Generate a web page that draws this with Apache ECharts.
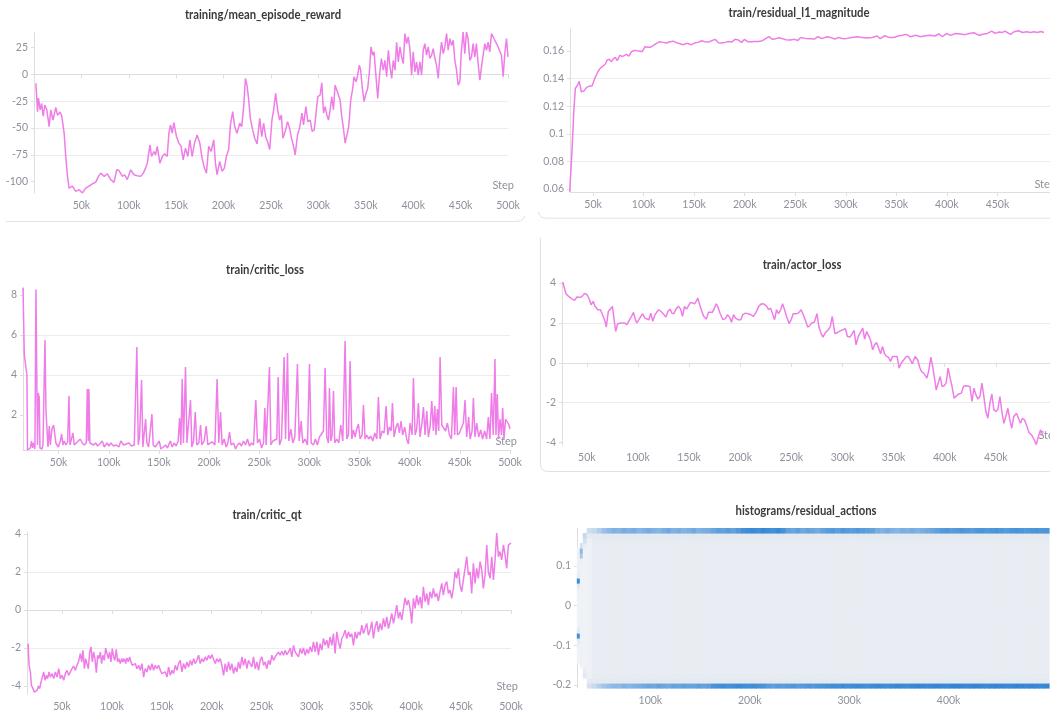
<!DOCTYPE html>
<html>
<head>
<meta charset="utf-8">
<script src="https://cdn.jsdelivr.net/npm/echarts@6/dist/echarts.min.js"></script>
<style>
  html, body { margin: 0; padding: 0; background: #ffffff; }
  #chart { width: 1050px; height: 717px; }
</style>
</head>
<body>
<div id="chart"></div>
<script>
// ---- logged metrics: [step in thousands, value] ----
const meanEpisodeReward = [
  [2,-8.4],[3.7,-34.7],[4.7,-22],[6.5,-33],[8,-27],[9.7,-39],[11.4,-28.5],[13.5,-33],[16,-48.6],[17.7,-33],
  [20,-42.5],[23,-30.7],[24.8,-38],[27.6,-35],[29.3,-39],[31.8,-54.8],[33.5,-76.5],[35.3,-95],[37,-105.9],[40.5,-104],
  [44,-109],[47.6,-107.4],[51,-110.5],[54.6,-106],[58,-104],[61.6,-101.9],[65,-100.6],[68,-95],[70.4,-92],[74,-95],
  [77.4,-92.6],[80.9,-98],[84.4,-100.6],[87.2,-88.9],[89.6,-89.5],[93.2,-95],[95.6,-93.5],[98.4,-98],[102,-88.9],[105.4,-93.5],
  [109,-94.4],[112.4,-95],[115.3,-92],[117.7,-87.3],[119.5,-82.7],[122.3,-65.7],[124,-76.5],[126.5,-71.8],[128.2,-75],[130,-67],
  [132.8,-82.7],[135.3,-76.5],[137.7,-74],[140.5,-76.5],[142.3,-54.8],[144,-47],[145.8,-54.8],[147.5,-45],[150.3,-57.9],[152.8,-64],
  [155.2,-67],[157.3,-79.6],[159.8,-68.7],[162.3,-76.5],[164.4,-61],[166.8,-76.5],[169.3,-64],[172.1,-56.4],[174.9,-64],[177.3,-78],
  [179.8,-87.3],[181.9,-92],[184.3,-67],[186.8,-71.8],[189.6,-61],[191.4,-82.7],[193.1,-93.5],[195.9,-81],[198.4,-90.4],[200.8,-87.3],
  [202.9,-76.5],[205.4,-70],[207.2,-47],[209.6,-34.7],[211.7,-48.6],[214.1,-54.8],[217,-45.5],[219.1,-48.6],[221.2,-30],[223,-3.8],
  [224.7,-10],[226.5,-23.9],[228.2,-41],[230.7,-51.7],[232.8,-59.5],[235.3,-64.7],[238.1,-41],[240.2,-58],[242.2,-45.5],[244.4,-58],
  [246.8,-64],[248.6,-70],[251,-42.5],[252.8,-33],[254.9,-17.7],[257,-33],[259.1,-42.5],[260.9,-37.8],[262.6,-59.5],[265,-53],
  [267.5,-44],[269.6,-50.2],[272,-61],[273.8,-67],[275.5,-75],[278,-56.4],[280.1,-50.2],[282.6,-36],[284.3,-47],[286.8,-30],
  [288.9,-44],[291.3,-42.5],[293.4,-53],[295.6,-51.7],[297.6,-53],[299.4,-20.8],[301.8,-19.2],[303.6,-7.8],[305.4,-36],[307.1,-30],
  [308.9,-37.8],[310.6,-42.5],[312.4,-33],[314.1,-20.8],[315.9,-33],[317.6,-10],[319.4,-14.6],[321.1,-13],[322.9,-23.9],[324.6,-39],
  [326.4,-50.2],[328.2,-64],[330,-62.6],[331.7,-50.2],[332.7,-41],[334.1,-23.9],[336.2,-13],[337.6,-2.2],[339.7,-6.9],[341.1,-2.2],
  [343.2,8.6],[344.6,4],[346,-10],[348.2,-25.4],[350.2,-17.7],[352,-13],[353.8,2.4],[355.5,25.6],[357.3,17.9],[358.7,21],
  [360.5,0.9],[362.6,-22.3],[364.3,-2.2],[366.4,14.8],[368.5,4],[370.2,13],[372,-2.2],[373.8,22.5],[375.5,7],[377.3,-3.8],
  [379,13],[380.8,4],[382.5,30],[384.3,11.7],[386,25.6],[387.8,16.3],[389.5,10],[391.3,38],[393.1,28.7],[394.8,35],
  [396.5,24],[398.3,-0.7],[400,21],[401.8,2.4],[403.5,11.7],[405.3,-0.7],[407.1,11.7],[408.8,-0.7],[410.6,22.5],[412.3,28.7],
  [414.1,17.9],[415.9,25.6],[417.6,14.8],[419.4,17.9],[421.1,24],[422.9,14.8],[424.6,8.6],[426.4,-3.8],[428.1,16.3],[429.9,30],
  [431.7,19.4],[433.4,25.6],[435.2,38],[436.9,22.5],[438.7,33.4],[440.4,27],[442.2,31.8],[443.9,13],[445.7,4],[447.4,-10],
  [449.2,-6.9],[450.6,19.4],[452.7,39.5],[454.4,19.4],[456.2,39.5],[457.9,33.4],[459.7,13],[461.5,16.3],[463.2,28.7],[465,16.3],
  [466.7,28.7],[468.5,10],[470.3,-5.3],[472,7],[473.8,17.9],[475.5,28.7],[477.3,22.5],[479,30],[480.8,21],[482.6,38],
  [484.3,39.5],[486.1,31.8],[487.8,33.4],[489.6,25.6],[491.3,24],[493.1,17.9],[494.9,-2.2],[496.6,19.4],[498.4,33.4],[500,16.3]
];

const residualL1Magnitude = [
  [26.9,0.058],[29.2,0.088],[31,0.117],[32.5,0.133],[34.5,0.135],[36.4,0.138],[38.4,0.1305],[41,0.131],[43.7,0.1337],[46.4,0.1346],
  [49,0.1346],[51.6,0.140],[54.3,0.1443],[57,0.1474],[59.6,0.149],[62.2,0.1506],[64,0.1535],[66.2,0.154],[68.2,0.1523],[70,0.1544],
  [72,0.1554],[74,0.153],[76.4,0.157],[78.8,0.156],[80.7,0.157],[83,0.1576],[85.4,0.1564],[88,0.1595],[90.7,0.1605],[93.3,0.1602],
  [96,0.16],[98.6,0.1595],[101.2,0.1631],[104,0.1627],[106.5,0.1627],[109.5,0.1639],[112.8,0.1656],[116,0.1668],[119.4,0.1663],[122.7,0.1658],
  [126,0.1668],[129.3,0.1672],[132.6,0.166],[136,0.1653],[139,0.1646],[142.6,0.1656],[144,0.1665],[147.5,0.1646],[150.8,0.166],[154,0.1663],
  [157.4,0.1675],[160.7,0.1668],[164,0.1665],[167.4,0.1675],[170.7,0.1685],[174,0.166],[177.3,0.1658],[180.6,0.1663],[184,0.167],[187,0.1665],
  [190.5,0.1685],[193.8,0.168],[197,0.1663],[199.8,0.1685],[203,0.1668],[207,0.1668],[210,0.167],[213.6,0.167],[217.6,0.1675],[221,0.1692],
  [224,0.1704],[227.5,0.1685],[230.8,0.169],[234,0.1697],[237.4,0.169],[240.7,0.1682],[245,0.168],[249.3,0.1685],[252.6,0.1677],[255.3,0.1699],
  [260,0.1692],[265,0.169],[269,0.1687],[272.5,0.1704],[276.4,0.169],[281.4,0.1704],[284.7,0.1699],[289,0.1687],[293,0.1699],[297,0.169],
  [301,0.1692],[306,0.1699],[311,0.1704],[316,0.1699],[321,0.1694],[326,0.1699],[331,0.1709],[334,0.169],[338.6,0.1711],[342.6,0.1699],
  [347.5,0.1699],[351.8,0.1709],[355.8,0.1714],[359.7,0.1721],[364,0.1704],[369,0.1714],[374,0.1704],[379,0.1711],[384,0.1714],[388,0.1709],
  [392,0.1724],[395.5,0.1704],[399.4,0.1727],[403.7,0.1714],[408.6,0.1727],[413.6,0.1724],[418,0.1719],[422,0.1728],[426.8,0.1733],[431.8,0.1714],
  [436.8,0.1724],[440,0.1728],[444.4,0.1745],[447.7,0.1728],[451.7,0.1738],[455,0.1735],[457.6,0.1745],[461,0.1728],[463,0.1721],[466.5,0.174],
  [470.8,0.1747],[474.8,0.1735],[478.8,0.174],[483,0.1735],[486,0.174],[489.5,0.1735],[493,0.1742],[496,0.1735]
];

const criticLoss = [
  [14.5,8.37],[15.8,5.0],[17,4.9],[18.4,4.0],[19,0.25],[20.4,0.3],[21.8,0.35],[23,0.7],[24,0.35],[25,0.6],
  [26.4,0.3],[27.4,8.27],[28.4,3.2],[29,0.5],[29.7,3.1],[30.7,2.87],[31.4,0.35],[32.4,0.4],[33.4,0.3],[34.4,0.5],
  [35.4,0.4],[36.4,5.75],[37.4,2.2],[38.4,2.1],[39.4,0.4],[40.7,1.45],[41.7,0.5],[43.4,1.3],[45,1.5],[46.3,1.55],
  [47.3,0.6],[48.3,0.7],[49.7,0.4],[51.7,0.7],[53,1.05],[54.3,0.5],[55.6,0.7],[57.3,0.5],[59,0.65],[60.3,2.95],
  [61.3,0.5],[62.6,0.5],[64.3,1.1],[65.6,0.5],[67.6,0.6],[69.6,0.7],[71.6,0.8],[73.6,0.6],[75.6,0.5],[77.6,0.6],
  [78.6,3.3],[79.6,0.7],[80.2,3.3],[81.2,0.6],[82.9,0.7],[84.9,0.5],[86.9,0.6],[88.9,0.45],[90.9,0.55],[93.5,0.7],
  [95.5,0.4],[98.2,0.6],[100.2,0.45],[102.1,0.6],[104.8,0.45],[107.5,0.5],[110,0.4],[112,0.7],[114.8,0.5],[117.4,0.55],
  [120,0.6],[122.7,0.45],[125.4,0.5],[126.7,0.4],[128,5.4],[129.4,0.5],[130.7,0.9],[132.7,3.75],[134,0.4],[135.4,0.5],
  [136.7,1.8],[138,0.6],[139.7,0.4],[141.3,0.5],[143,2.05],[144.3,0.5],[146.3,0.4],[148,0.35],[150.3,0.7],[152,0.3],
  [154.6,0.4],[156.6,0.5],[158.6,0.35],[161.3,0.7],[163.3,0.4],[165.2,0.6],[167.2,0.45],[169.2,0.7],[170.6,1.85],[171.9,0.5],
  [173.2,3.8],[174.5,0.6],[175.5,0.5],[176.5,4.4],[177.9,0.6],[179.5,0.5],[181.5,2.75],[182.8,0.4],[184.5,0.7],[186.2,2.15],
  [187.8,0.5],[189.8,0.6],[191.5,1.5],[192.8,0.5],[195.1,0.7],[197.1,1.45],[198.8,0.5],[201.1,0.6],[203.4,0.65],[205.8,0.5],
  [208,3.8],[209.7,0.6],[211.4,2.15],[213,0.5],[215,0.8],[217,0.4],[218.7,0.6],[220.4,1.15],[222,0.5],[224.4,0.6],
  [226.4,0.3],[228.3,0.5],[230.3,0.6],[232.3,0.45],[234.3,0.7],[236.3,0.5],[238.3,0.8],[240.3,0.45],[242.3,0.6],[244.3,0.5],
  [246.6,2.75],[248.3,0.6],[250.3,0.8],[252.3,0.35],[254.3,0.6],[255.6,2.35],[256.9,0.5],[258.6,0.6],[260.2,4.4],[261.6,0.5],
  [263.6,0.7],[265.5,0.6],[267.5,0.8],[268.9,3.9],[270.2,0.5],[272.2,0.8],[274.8,4.9],[276.2,0.8],[278.2,5.1],[279.5,0.7],
  [281.5,1.3],[283.5,0.6],[285.5,0.9],[288.1,4.55],[289.8,0.7],[291.8,1.7],[293.4,0.6],[295.8,0.8],[298.1,0.5],[300.1,4.55],
  [301.8,0.6],[304,0.5],[306,0.8],[308,0.5],[310,0.9],[312,1.05],[314,1.2],[315.7,4.35],[317.3,0.9],[319,0.6],
  [320,3.35],[321.3,0.7],[322.7,1.0],[324,3.2],[325.3,0.6],[327.3,0.8],[329.3,0.6],[331.3,1.5],[333.3,0.7],[335.6,5.7],
  [337.3,0.8],[339,1.0],[340.6,4.7],[342.3,0.8],[343.9,1.25],[345.6,0.9],[347.2,1.3],[348.9,1.55],[350.6,0.8],[352.6,1.0],
  [353.9,2.5],[355.5,0.8],[357.2,1.0],[359.2,0.8],[361.2,0.95],[363.2,0.7],[365.2,1.1],[367.2,0.8],[368.8,2.9],[370.5,0.8],
  [372.5,1.2],[374.5,1.1],[376.5,2.45],[378.1,1.0],[379.8,1.4],[381.5,1.2],[382.8,2.6],[384.4,0.9],[386.4,1.4],[388.1,1.6],
  [389.7,1.1],[391.4,1.7],[393,1.0],[395,1.4],[397,0.8],[398.7,0.55],[400.4,1.6],[402.4,1.0],[403.7,3.85],[405.4,1.0],
  [407,1.3],[408.7,2.6],[410.3,0.9],[412,1.5],[413.7,2.4],[415.3,1.0],[417,2.2],[418.6,0.9],[420.3,1.4],[422,2.7],
  [423.6,1.2],[425,2.45],[426.3,1.0],[427.6,2.3],[429,1.2],[430.3,4.9],[432,1.5],[433.6,1.5],[435.7,1.2],[437.6,1.6],
  [439.6,1.0],[441.6,0.8],[443.6,3.4],[444.9,1.0],[446.3,3.4],[447.6,1.0],[449.6,1.1],[451.5,1.0],[453.5,1.6],[455.2,2.75],
  [456.8,0.9],[458.8,1.9],[460.2,0.8],[462.2,1.2],[463.5,2.85],[465.1,0.9],[466.8,1.6],[468.8,0.9],[470.8,1.25],[472.7,0.8],
  [474.7,1.2],[476.7,0.8],[478.4,1.9],[480,0.8],[481.6,3.1],[483.3,1.0],[485,4.8],[486,1.0],[487.3,3.05],[488.6,0.8],
  [490,1.8],[491.6,1.0],[492.7,2.35],[494,0.8],[495.6,1.8],[497.2,1.9],[499,1.5],[500,1.3]
];

const actorLoss = [
  [26.4,4.05],[29.6,3.46],[32.2,3.33],[35.4,3.2],[38,3.13],[40.3,3.3],[42.5,3.28],[45,3.31],[47.7,3.48],[50.3,3.41],
  [52.3,3.2],[54.2,2.91],[56.2,3.08],[58,2.83],[60.7,2.66],[63.3,2.66],[65.9,2.33],[67.8,2.08],[69,1.79],[71,2.58],
  [73,2.69],[75,2.83],[76.9,2.08],[78.2,1.57],[80.1,1.96],[83.4,2.0],[86.6,2.0],[89.2,1.91],[91.8,2.16],[93.7,2.33],
  [95.7,2.53],[97.6,2.13],[98.9,2.0],[100.9,2.16],[102.8,2.33],[104.7,2.46],[106.7,2.24],[108.6,2.16],[110.6,2.16],[112.5,2.49],
  [114.5,2.08],[116.4,2.38],[118.3,2.53],[120.3,2.66],[122.9,2.56],[125.5,2.41],[127.4,2.29],[129.4,2.58],[131.3,2.69],[133.2,2.49],
  [135.2,2.46],[137.1,2.69],[139.7,2.83],[141.7,2.69],[143.6,2.33],[145.5,2.83],[147.5,2.69],[149.4,2.79],[151.4,3.03],[153.3,3.0],
  [155.3,2.96],[156.9,3.08],[158.5,3.25],[160.4,2.91],[162.4,2.58],[164.3,2.33],[166.9,2.19],[168.9,2.53],[170.8,2.49],[172.8,2.53],
  [174.7,2.74],[176.6,2.96],[178.6,2.74],[180.5,2.46],[183.1,2.16],[185.7,2.23],[187.6,2.41],[189.6,2.29],[191.5,2.03],[193.5,2.41],
  [195.4,2.24],[198,2.16],[200.6,2.16],[202.5,2.41],[205.1,2.49],[207.7,2.46],[210.3,2.41],[212.9,2.33],[215.5,2.53],[218.1,2.83],
  [220.7,2.96],[223.3,2.95],[225.9,2.83],[227.8,2.66],[229.8,2.74],[231.7,2.79],[233.6,2.16],[235.6,2.66],[237.5,2.46],[239.5,2.66],
  [241.4,2.96],[243.4,2.66],[245.3,2.33],[247.9,1.96],[249.8,2.16],[251.8,2.46],[254.4,2.46],[257,2.49],[259.6,2.66],[262.1,2.36],
  [264.1,2.08],[266,1.79],[268,1.86],[269.9,2.0],[272.5,2.03],[275.1,2.46],[277,1.79],[279,1.49],[280.9,1.29],[283.5,1.52],
  [286.1,1.66],[288,1.79],[290,2.33],[292.6,1.46],[295.2,1.52],[297.8,1.6],[300.4,1.66],[302.9,1.71],[304.9,1.32],[307.5,1.29],
  [309.4,1.36],[311.4,1.62],[313.3,0.9],[315.3,1.29],[317.2,1.49],[319.8,1.74],[321.7,1.19],[323.7,1.57],[325.6,1.36],[327.6,1.12],
  [329.5,0.65],[331.5,0.9],[333.4,1.02],[335.3,0.95],[337.3,0.45],[339.2,0.82],[341.2,0.45],[343.1,0.32],[345.1,0.28],[347,0.07],
  [349,0.32],[350.9,0.23],[353.5,0.32],[355.4,-0.27],[357.4,-0.02],[360,0.15],[362.5,0.32],[364.5,0.32],[366.4,0.15],[368.4,-0.05],
  [371,0.32],[373.6,0.15],[375.5,-0.22],[377.4,-0.44],[380,-0.55],[382.6,-0.77],[384.6,-0.35],[386.5,0.28],[388.5,-0.27],[390.4,-0.89],
  [391.7,-1.36],[393.6,-1.02],[395.6,-0.69],[397.5,-1.19],[399.5,-1.15],[401.4,-1.02],[403.3,-0.27],[405.3,-0.77],[407.2,-1.19],[409.2,-1.77],
  [411.1,-1.69],[413.7,-1.56],[416.3,-1.52],[418.3,-1.19],[420.9,-1.15],[422.8,-1.19],[424.7,-1.19],[426.7,-1.94],[428.6,-1.27],[430.6,-1.61],
  [432.5,-1.82],[434.5,-1.69],[436.4,-1.02],[438.3,-1.69],[440.3,-2.44],[442.2,-2.78],[444.2,-2.03],[446.1,-1.56],[448.1,-2.36],[450.1,-2.44],
  [452,-2.33],[454,-1.69],[455.9,-2.44],[457.9,-3.03],[459.8,-2.69],[461.8,-2.28],[463.7,-2.86],[465.6,-3.28],[467.6,-2.69],[470.2,-2.53],
  [472.1,-2.44],[474.1,-3.03],[476,-2.78],[478,-2.86],[479.9,-3.11],[482.5,-3.5],[485.1,-3.62],[487.7,-3.87],[489.6,-4.1],[491.6,-3.7],
  [493.8,-3.36],[496.1,-3.62]
];

const criticQt = [
  [16,-1.77],[17,-2.91],[18.3,-3.26],[19.3,-3.96],[20.6,-4.1],[22.3,-4.32],[23.6,-4.42],[25,-4.23],[26.3,-4.0],[27.6,-4.14],
  [29,-3.79],[30.3,-3.53],[31.6,-3.26],[33,-3.7],[34.3,-3.44],[35.6,-3.61],[37,-3.26],[38.3,-3.53],[40,-3.35],[41.7,-3.61],
  [43.3,-3.26],[45,-3.53],[46.7,-3.09],[48.3,-3.61],[50,-3.44],[51.7,-3.7],[53.3,-3.35],[55,-3.17],[56.7,-3.44],[58.3,-3.26],
  [60,-3.09],[61.7,-2.95],[63.4,-3.17],[65,-2.91],[66.7,-2.7],[68.4,-2.29],[69.7,-2.73],[71,-2.12],[72.4,-3.09],[73.7,-2.56],
  [75,-2.82],[76.4,-3.09],[77.7,-2.21],[79,-1.94],[80.4,-2.73],[81.7,-2.21],[83,-2.56],[84.4,-3.3],[85.7,-2.38],[87,-2.56],
  [88.4,-2.21],[89.7,-2.82],[91,-2.38],[92.4,-2.65],[93.7,-2.0],[95,-1.94],[96.4,-2.56],[97.7,-2.21],[99,-2.73],[100.4,-2.03],
  [101.7,-2.47],[103,-2.65],[104.4,-2.07],[105.7,-2.73],[107,-2.56],[108.4,-2.82],[109.8,-2.56],[111,-2.73],[112.4,-2.56],[113.8,-2.82],
  [115,-2.52],[116.4,-2.73],[117.8,-2.47],[119.1,-2.73],[120.4,-2.91],[121.8,-3.0],[123.4,-2.82],[125.1,-3.09],[126.8,-2.91],[128.4,-3.17],
  [130.1,-2.82],[131.8,-3.53],[133.4,-3.09],[135.1,-3.26],[136.8,-2.91],[138.5,-3.17],[140.1,-2.82],[141.8,-3.17],[143.5,-2.91],[145.1,-3.09],
  [146.8,-2.91],[148.5,-3.17],[150.1,-3.35],[151.8,-3.44],[153.5,-3.26],[155.2,-3.53],[156.8,-3.0],[158.5,-3.44],[160.2,-3.17],[161.8,-3.35],
  [163.5,-2.91],[165.2,-3.17],[166.8,-2.82],[168.5,-2.65],[170.2,-3.26],[171.8,-2.82],[173.5,-3.09],[175.2,-2.73],[176.9,-3.0],[178.5,-2.65],
  [180.2,-2.91],[181.9,-2.56],[183.5,-2.82],[185.2,-2.65],[186.9,-2.38],[188.5,-2.82],[190.2,-2.56],[191.9,-2.73],[193.5,-2.47],[195.2,-2.65],
  [196.9,-2.38],[198.6,-2.56],[200.2,-2.35],[201.9,-2.59],[203.6,-2.82],[205.2,-2.56],[206.9,-2.73],[208.6,-2.56],[210.2,-2.91],[211.9,-3.44],
  [213.6,-2.82],[215.2,-3.26],[216.9,-2.73],[218.6,-3.17],[220.2,-2.82],[221.9,-3.35],[223.6,-3.0],[225.3,-3.26],[226.9,-2.73],[228.6,-3.09],
  [230.3,-2.47],[231.9,-2.91],[233.6,-2.56],[235.3,-3.09],[236.9,-2.65],[238.6,-2.82],[240.3,-3.0],[241.9,-2.47],[243.6,-3.09],[245.3,-2.73],
  [247,-3.17],[248.6,-2.65],[250.3,-2.47],[252,-2.91],[253.6,-2.73],[255.3,-3.09],[257,-2.65],[258.6,-2.88],[260.3,-2.38],[262,-2.65],
  [263.6,-2.47],[265.3,-2.56],[267,-2.21],[268.6,-2.38],[270.3,-2.17],[272,-2.38],[273.7,-2.12],[275.3,-2.35],[277,-2.21],[278.7,-2.0],
  [280.3,-2.47],[282,-1.86],[283.7,-2.21],[285.3,-2.12],[287,-2.47],[288.7,-2.03],[290.3,-2.29],[292,-2.0],[293.7,-2.38],[295.4,-2.07],
  [297,-2.29],[298.7,-1.94],[300.4,-2.21],[302,-1.68],[303.7,-2.21],[305.4,-1.68],[307,-2.38],[308.7,-1.77],[310.4,-2.12],[312,-1.5],
  [313.7,-1.86],[315.4,-1.59],[317,-2.0],[318.7,-1.42],[320.4,-1.86],[322,-1.24],[323.7,-2.29],[325.4,-1.15],[327.1,-1.68],[328.7,-2.03],
  [330.4,-1.5],[332.1,-1.33],[333.7,-1.06],[335.4,-1.5],[337.1,-1.15],[338.7,-1.42],[340.4,-1.24],[342.1,-1.86],[343.8,-1.15],[345.4,-1.5],
  [347.1,-1.15],[348.8,-1.33],[350.4,-0.8],[352.1,-1.24],[353.8,-0.98],[355.4,-0.71],[357.1,-1.33],[358.8,-1.06],[360.5,-0.62],[362.1,-1.5],
  [363.8,-0.89],[365.5,-0.59],[367.1,-1.15],[368.8,-0.71],[370.5,-1.06],[372.1,-0.45],[373.8,-0.89],[375.5,-0.36],[377.2,-0.98],[378.8,-0.62],
  [380.5,-0.18],[382.2,-0.71],[383.8,-0.27],[385.5,0.25],[387.2,-0.45],[388.8,-0.1],[390.5,-0.54],[392.2,-0.62],[393.8,0.64],[395.5,0.25],
  [397.2,0.52],[398.9,0.08],[400.5,-0.71],[402.2,0.61],[403.9,0.08],[405.5,0.78],[407.2,0.25],[408.9,0.69],[410.5,0.08],[412.2,1.22],
  [413.9,0.43],[415.6,0.87],[417.2,0.25],[418.9,0.96],[420.6,0.61],[422.2,1.13],[423.9,0.69],[425.6,0.87],[427.2,0.47],[428.9,0.96],
  [430.6,1.4],[432.2,0.78],[433.9,1.31],[435.6,1.49],[437.3,0.87],[438.9,1.05],[440.6,0.61],[442.3,1.13],[443.9,2.01],[445.6,1.66],
  [447.3,2.19],[448.9,1.31],[450.6,0.96],[452.3,1.58],[454,1.66],[455.6,2.8],[457.3,1.84],[459,2.01],[460.6,0.87],[462.3,2.45],
  [464,1.4],[465.6,2.19],[467.3,1.66],[469,2.54],[470.7,2.1],[472.3,1.13],[474,1.84],[475.7,3.42],[477.3,2.01],[479,1.66],
  [480.7,2.8],[482.4,1.58],[484,2.63],[485.7,4.04],[487.4,2.8],[489,3.07],[490.7,2.63],[492.4,3.42],[494,2.89],[495.7,2.19],
  [497.4,3.42],[499,3.46],[500,3.51]
];

// ---- residual action histogram ----
// bins run bottom -> top across the logged action range
const residualRange = [-0.2076, 0.1958];
const residualBinCount = 32;
// first snapshots: [from step k, to step k, counts per bin bottom->top]
const residualEarlyColumns = [
  [26, 29, [0,0,0,0,0,0.06,0.08,0.1,0.12,0.22,0.85,0.25,0.1,0.1,0.08,0.08,0.08,0.08,0.1,0.12,0.26,0.9,0.2,0.12,0.1,0.1,0.12,0.1,0,0,0,0]],
  [29, 32, [0,0,0,0,0.08,0.12,0.12,0.1,0.1,0.1,0.12,0.1,0.1,0.1,0.1,0.1,0.1,0.1,0.1,0.1,0.1,0.1,0.1,0.1,0.1,0.12,0.45,0.55,0.3,0,0,0]],
  [32, 36, [0,0,0.25,0.2,0.1,0.09,0.09,0.09,0.09,0.09,0.09,0.09,0.09,0.09,0.09,0.09,0.09,0.09,0.09,0.09,0.09,0.09,0.09,0.09,0.09,0.09,0.09,0.1,0.15,0.3,0.35,0]],
  [36, 41, [0.3,0.22,0.12,0.1,0.1,0.1,0.1,0.1,0.1,0.1,0.1,0.1,0.1,0.1,0.1,0.1,0.1,0.1,0.1,0.1,0.1,0.1,0.1,0.1,0.1,0.1,0.1,0.1,0.11,0.13,0.22,0.32]]
];
// later snapshots every 5k steps from 41k: saturated top and bottom bins
const residualFirstStep = 41;
const residualStepWidth = 5;
const residualTopBin = [
  0.35,0.42,0.5,
  0.56,0.6,0.58,0.63,0.6,0.63,0.57,0.6,0.64,0.6,0.58,0.62,0.66,0.6,0.63,0.59,0.61,0.65,0.6,0.62,0.64,
  0.68,0.72,0.7,0.74,0.7,0.76,
  0.85,0.88,0.9,0.86,0.92,0.88,0.85,0.9,0.84,
  0.7,0.68,0.72,0.66,0.7,0.68,0.65,0.7,
  0.74,0.76,0.72,0.78,0.75,0.73,0.77,0.74,0.72,0.7,
  0.62,0.6,0.64,0.6,0.58,0.62,0.6,0.63,0.6,0.62,0.65,0.68,
  0.72,0.75,0.78,0.74,0.76,0.8,0.77,0.74,0.78,0.8,0.76,0.79,0.82,0.78,0.75,0.8,0.83,0.79,0.77,0.8,0.82,0.78,0.8
];
const residualBottomBin = [
  0.35,0.42,0.48,
  0.52,0.56,0.55,0.6,0.57,0.6,0.62,
  0.65,0.68,0.66,0.7,0.67,0.65,0.7,0.68,0.72,0.69,0.7,0.73,0.7,0.72,
  0.82,0.85,0.88,0.84,0.86,0.9,0.87,0.85,0.88,0.84,0.82,
  0.74,0.72,0.76,0.73,0.75,0.78,0.74,0.76,0.8,0.77,0.8,0.82,
  0.85,0.88,0.86,0.9,0.87,0.89,0.91,0.88,0.86,0.9,0.92,0.89,0.87,0.9,0.93,0.9,0.88,0.91,0.94,0.92,0.9,0.93,0.95,0.92,0.9,
  0.94,0.96,0.93,0.91,0.94,0.95,0.92,0.9,0.93,0.95,0.94,0.91,0.93,0.96,0.94,0.92,0.95,0.93,0.91,0.94
];
// inner bins (second from bottom .. second from top)
const residualInnerBins = [0.24,0.2,0.18,0.17,0.17,0.17,0.17,0.17,0.17,0.17,0.17,0.17,0.17,0.17,0.17,0.17,0.17,0.17,0.17,0.17,0.17,0.17,0.17,0.17,0.17,0.17,0.17,0.18,0.2,0.24];

// ---- styling ----
const FONT = 'Lato, "Noto Sans", sans-serif';
const LINE_COLOR = '#ef7de8';
const AXIS_COLOR = '#dedede';
const SPLIT_COLOR = '#ececec';
const LABEL_COLOR = '#8e919c';

function kLabel(v) { return (v / 1000) + 'k'; }
const toSteps = rows => rows.map(r => [r[0] * 1000, r[1]]);

function xAxisFor(gridIndex, min, max, ticks) {
  return {
    type: 'value', gridIndex, min, max,
    axisLine: { show: true, lineStyle: { color: AXIS_COLOR, width: 1 } },
    axisTick: { show: true, length: 4, customValues: ticks, lineStyle: { color: AXIS_COLOR } },
    axisLabel: { customValues: ticks, formatter: kLabel, color: LABEL_COLOR, fontSize: 10.5, fontFamily: FONT, margin: 7 },
    splitLine: { show: false }
  };
}
function yAxisFor(gridIndex, min, max, ticks, showSplit) {
  return {
    type: 'value', gridIndex, min, max,
    axisLine: { show: true, lineStyle: { color: AXIS_COLOR, width: 1 } },
    axisTick: { show: true, length: 3, customValues: ticks, lineStyle: { color: AXIS_COLOR } },
    axisLabel: { customValues: ticks, color: LABEL_COLOR, fontSize: 10.5, fontFamily: FONT, margin: 6 },
    splitLine: { show: showSplit !== false, showMinLine: false, showMaxLine: false, lineStyle: { color: SPLIT_COLOR, width: 1 } }
  };
}
function lineSeries(idx, rows) {
  return {
    type: 'line', xAxisIndex: idx, yAxisIndex: idx, data: toSteps(rows),
    showSymbol: false, symbol: 'none', clip: true, animation: false,
    lineStyle: { color: LINE_COLOR, width: 1.5 }
  };
}

// histogram cells: [x0, x1, y0, y1, count]
const binHeight = (residualRange[1] - residualRange[0]) / residualBinCount;
const binLo = i => residualRange[0] + i * binHeight;
const residualCells = [];
residualEarlyColumns.forEach(([from, to, bins]) => {
  bins.forEach((v, i) => {
    if (v > 0) residualCells.push([from * 1000, to * 1000, binLo(i), binLo(i + 1), v]);
  });
});
residualTopBin.forEach((top, c) => {
  const from = (residualFirstStep + c * residualStepWidth) * 1000;
  const to = from + residualStepWidth * 1000;
  residualCells.push([from, to, binLo(0), binLo(1), residualBottomBin[c]]);
  residualInnerBins.forEach((v, j) => residualCells.push([from, to, binLo(j + 1), binLo(j + 2), v]));
  residualCells.push([from, to, binLo(residualBinCount - 1), binLo(residualBinCount), top]);
});

const titles = [
  ['training/mean_episode_reward', 263, 15],
  ['train/residual_l1_magnitude', 799, 13],
  ['train/critic_loss', 265, 270],
  ['train/actor_loss', 802, 265],
  ['train/critic_qt', 267, 515],
  ['histograms/residual_actions', 806, 511]
];
const stepTags = [[514, 185], [1056, 184], [517, 441], [1060, 435], [518, 686]];

const graphics = [];
// panel frames
graphics.push({ type: 'polyline', silent: true, shape: { points: [[6,221.5],[517,221.5],[520.5,220.7],[523,219],[524.8,216]] }, style: { stroke: '#e3e3e3', lineWidth: 1, fill: null } });
graphics.push({ type: 'polyline', silent: true, shape: { points: [[538.5,212],[539.6,215.3],[542,217.3],[545.5,218.2],[1050,218.2]] }, style: { stroke: '#e3e3e3', lineWidth: 1, fill: null } });
graphics.push({ type: 'polyline', silent: true, shape: { points: [[540.5,238],[540.5,465],[541.6,468.8],[544.5,471],[548.5,471.5],[1050,471.5]] }, style: { stroke: '#e1e1e1', lineWidth: 1, fill: null } });
titles.forEach(([text, x, y]) => graphics.push({
  type: 'text', silent: true, x, y, scaleX: 0.87,
  style: { text, fill: '#3a3a3f', font: 'bold 13px ' + FONT, textAlign: 'center', textVerticalAlign: 'middle' }
}));
stepTags.forEach(([x, y]) => graphics.push({
  type: 'text', silent: true, x, y,
  style: { text: 'Step', fill: LABEL_COLOR, font: '11px ' + FONT, textAlign: 'right', textVerticalAlign: 'middle' }
}));

const chart = echarts.init(document.getElementById('chart'), null, { renderer: 'canvas' });
chart.setOption({
  backgroundColor: '#ffffff',
  animation: false,
  grid: [
    { left: 34, top: 32, width: 474, height: 161 },
    { left: 570, top: 29, width: 480, height: 163 },
    { left: 23, top: 288, width: 487, height: 162 },
    { left: 562, top: 282, width: 491, height: 163 },
    { left: 27, top: 532, width: 484, height: 162 },
    { left: 577, top: 528, width: 478, height: 160 }
  ],
  xAxis: [
    xAxisFor(0, 0, 500000, [50000,100000,150000,200000,250000,300000,350000,400000,450000,500000]),
    xAxisFor(1, 27200, 502000, [50000,100000,150000,200000,250000,300000,350000,400000,450000]),
    xAxisFor(2, 14500, 500000, [50000,100000,150000,200000,250000,300000,350000,400000,450000,500000]),
    xAxisFor(3, 25700, 503000, [50000,100000,150000,200000,250000,300000,350000,400000,450000]),
    xAxisFor(4, 14900, 500000, [50000,100000,150000,200000,250000,300000,350000,400000,450000,500000]),
    xAxisFor(5, 26200, 502000, [100000,200000,300000,400000])
  ],
  yAxis: [
    yAxisFor(0, -110.5, 39.5, [-100,-75,-50,-25,0,25]),
    yAxisFor(1, 0.0578, 0.176, [0.06,0.08,0.1,0.12,0.14,0.16]),
    yAxisFor(2, 0.25, 8.35, [2,4,6,8]),
    yAxisFor(3, -4.12, 4.05, [-4,-2,0,2,4]),
    yAxisFor(4, -4.42, 4.1, [-4,-2,0,2,4]),
    yAxisFor(5, residualRange[0], residualRange[1], [-0.2,-0.1,0,0.1], false)
  ],
  visualMap: {
    show: false, type: 'continuous', seriesIndex: 5, dimension: 4, min: 0, max: 1,
    inRange: { color: ['#f6f7f9', '#e3e9f0', '#9cc1e7', '#559adb', '#2a80d3'] }
  },
  series: [
    lineSeries(0, meanEpisodeReward),
    lineSeries(1, residualL1Magnitude),
    lineSeries(2, criticLoss),
    lineSeries(3, actorLoss),
    lineSeries(4, criticQt),
    {
      type: 'custom', xAxisIndex: 5, yAxisIndex: 5, clip: true, animation: false,
      data: residualCells,
      encode: { x: [0, 1], y: [2, 3] },
      renderItem: (params, api) => {
        const a = api.coord([api.value(0), api.value(3)]);
        const b = api.coord([api.value(1), api.value(2)]);
        return {
          type: 'rect',
          shape: { x: a[0], y: a[1], width: b[0] - a[0] + 0.6, height: b[1] - a[1] + 0.6 },
          style: { fill: api.visual('color') }
        };
      }
    }
  ],
  graphic: graphics
});
</script>
</body>
</html>
